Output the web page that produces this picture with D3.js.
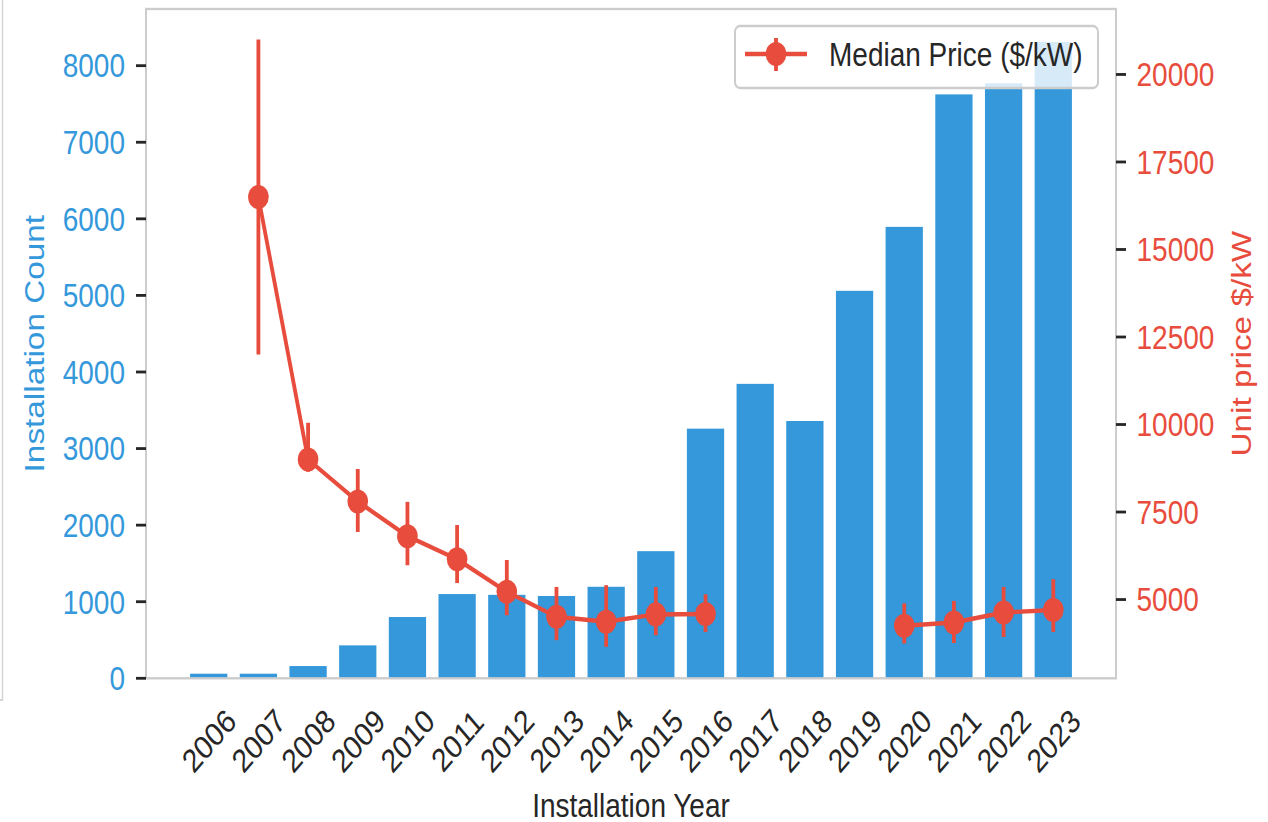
<!DOCTYPE html>
<html>
<head>
<meta charset="utf-8">
<script src="https://cdn.jsdelivr.net/npm/d3@7/dist/d3.min.js"></script>
<style>
  html, body { margin: 0; padding: 0; background: #ffffff; }
  svg { display: block; }
  text { font-family: "Liberation Sans", Arial, Helvetica, sans-serif; }
</style>
</head>
<body>
<div id="chart"></div>
<script>
// ---------- data ----------
const years = [2006, 2007, 2008, 2009, 2010, 2011, 2012, 2013, 2014, 2015,
               2016, 2017, 2018, 2019, 2020, 2021, 2022, 2023];
const installCounts = [60, 60, 160, 430, 800, 1100, 1090, 1075, 1195, 1660,
                       3260, 3845, 3360, 5060, 5895, 7625, 7770, 8310];
const medianPrice = [null, 16500, 9000, 7800, 6810, 6150, 5220, 4510, 4365, 4575,
                     4585, null, null, null, 4250, 4345, 4630, 4700];
const priceLow = [null, 12000, 8650, 6930, 5980, 5470, 4550, 3840, 3650, 3980,
                  4075, null, null, null, 3745, 3760, 3930, 4075];
const priceHigh = [null, 21000, 10050, 8730, 7790, 7130, 6130, 5360, 5410, 5360,
                   5150, null, null, null, 4890, 4960, 5360, 5580];
const leftTicks = [0, 1000, 2000, 3000, 4000, 5000, 6000, 7000, 8000];
const rightTicks = [5000, 7500, 10000, 12500, 15000, 17500, 20000];
const seriesLabel = "Median Price ($/kW)";
const xTitle = "Installation Year";
const yLeftTitle = "Installation Count";
const yRightTitle = "Unit price $/kW";

// ---------- layout ----------
const SY = 1.17;                 // vertical stretch of the reference picture
const W = 1268, H = 822 / SY;
const ry = v => v / SY;          // reference-pixel y -> drawing units
const plotL = 146, plotR = 1116, plotT = ry(9), plotB = ry(678.3);
const BLUE = "#3498db", RED = "#e74c3c", INK = "#262626", FRAME = "#cccccc";
const FS = 28;

const svg = d3.select("#chart").append("svg")
  .attr("width", 1268).attr("height", 822)
  .attr("viewBox", `0 0 ${W} ${H}`)
  .attr("preserveAspectRatio", "none");

const x = d3.scaleLinear().domain([2004.7375, 2024.2625]).range([plotL, plotR]);
const yL = d3.scaleLinear().domain([0, 8740]).range([plotB, plotT]);
const yR = d3.scaleLinear().domain([2750, 21870]).range([plotB, plotT]);

// faint outer border fragment at the left edge
svg.append("path")
  .attr("d", `M0,${ry(700)} H2.5 V0`)
  .attr("fill", "none").attr("stroke", "#d6d6d6").attr("stroke-width", 1.5);

// ---------- bars ----------
const bw = 0.75;
svg.append("g").selectAll("rect")
  .data(years.map((y, i) => ({ y, c: installCounts[i] })))
  .join("rect")
  .attr("x", d => x(d.y - bw / 2))
  .attr("width", d => x(d.y + bw / 2) - x(d.y - bw / 2))
  .attr("y", d => yL(d.c))
  .attr("height", d => yL(0) - yL(d.c))
  .attr("fill", BLUE);

// ---------- price line with error bars ----------
const pts = years.map((y, i) => ({ y, m: medianPrice[i], lo: priceLow[i], hi: priceHigh[i] }));
const gLine = svg.append("g");
gLine.selectAll("line.err")
  .data(pts.filter(d => d.m !== null))
  .join("line")
  .attr("class", "err")
  .attr("x1", d => x(d.y)).attr("x2", d => x(d.y))
  .attr("y1", d => yR(d.lo)).attr("y2", d => yR(d.hi))
  .attr("stroke", RED).attr("stroke-width", 3.8);
gLine.append("path")
  .datum(pts)
  .attr("d", d3.line().defined(d => d.m !== null).x(d => x(d.y)).y(d => yR(d.m)))
  .attr("fill", "none").attr("stroke", RED).attr("stroke-width", 3.8)
  .attr("stroke-linejoin", "round");
gLine.selectAll("circle")
  .data(pts.filter(d => d.m !== null))
  .join("circle")
  .attr("cx", d => x(d.y)).attr("cy", d => yR(d.m)).attr("r", 10.3)
  .attr("fill", RED);

// ---------- frame ----------
svg.append("rect")
  .attr("x", plotL).attr("y", plotT)
  .attr("width", plotR - plotL).attr("height", plotB - plotT)
  .attr("fill", "none").attr("stroke", FRAME).attr("stroke-width", 2);

// ---------- left axis ----------
const gl = svg.append("g");
gl.selectAll("line").data(leftTicks).join("line")
  .attr("x1", plotL - 10).attr("x2", plotL)
  .attr("y1", d => yL(d)).attr("y2", d => yL(d))
  .attr("stroke", INK).attr("stroke-width", 2.4);
gl.selectAll("text").data(leftTicks).join("text")
  .attr("x", 125).attr("y", d => yL(d))
  .attr("text-anchor", "end").attr("dominant-baseline", "central")
  .attr("font-size", FS).attr("fill", BLUE)
  .text(d => d);

// ---------- right axis ----------
const gr = svg.append("g");
gr.selectAll("line").data(rightTicks).join("line")
  .attr("x1", plotR).attr("x2", plotR + 10)
  .attr("y1", d => yR(d)).attr("y2", d => yR(d))
  .attr("stroke", INK).attr("stroke-width", 2.4);
gr.selectAll("text").data(rightTicks).join("text")
  .attr("x", 1136.5).attr("y", d => yR(d))
  .attr("text-anchor", "start").attr("dominant-baseline", "central")
  .attr("font-size", FS).attr("fill", RED)
  .text(d => d);

// ---------- x axis labels ----------
svg.append("g").selectAll("text").data(years).join("text")
  .attr("transform", d => `translate(${x(d)},${ry(740.5)}) rotate(-45)`)
  .attr("text-anchor", "middle").attr("dominant-baseline", "central")
  .attr("font-size", FS).attr("fill", INK)
  .text(d => d);

// ---------- axis titles ----------
svg.append("text")
  .attr("x", (plotL + plotR) / 2).attr("y", ry(816.7))
  .attr("text-anchor", "middle").attr("font-size", FS).attr("fill", INK)
  .text(xTitle);
svg.append("text")
  .attr("transform", `translate(44,${(plotT + plotB) / 2}) rotate(-90)`)
  .attr("text-anchor", "middle").attr("font-size", 28.5).attr("fill", BLUE)
  .text(yLeftTitle);
svg.append("text")
  .attr("transform", `translate(1251,${(plotT + plotB) / 2}) rotate(-90)`)
  .attr("text-anchor", "middle").attr("font-size", 28.5).attr("fill", RED)
  .text(yRightTitle);

// ---------- legend ----------
const lg = svg.append("g");
lg.append("rect")
  .attr("x", 735).attr("y", ry(26)).attr("width", 363).attr("height", ry(62))
  .attr("rx", 5).attr("ry", 5)
  .attr("fill", "#ffffff").attr("fill-opacity", 0.8)
  .attr("stroke", FRAME).attr("stroke-width", 2);
lg.append("line")
  .attr("x1", 745).attr("x2", 807).attr("y1", ry(54)).attr("y2", ry(54))
  .attr("stroke", RED).attr("stroke-width", 3.8);
lg.append("line")
  .attr("x1", 776).attr("x2", 776).attr("y1", ry(38)).attr("y2", ry(71))
  .attr("stroke", RED).attr("stroke-width", 3.8);
lg.append("circle")
  .attr("cx", 776).attr("cy", ry(54)).attr("r", 10.3).attr("fill", RED);
lg.append("text")
  .attr("x", 829).attr("y", ry(54))
  .attr("dominant-baseline", "central")
  .attr("font-size", FS).attr("fill", INK)
  .text(seriesLabel);
</script>
</body>
</html>
